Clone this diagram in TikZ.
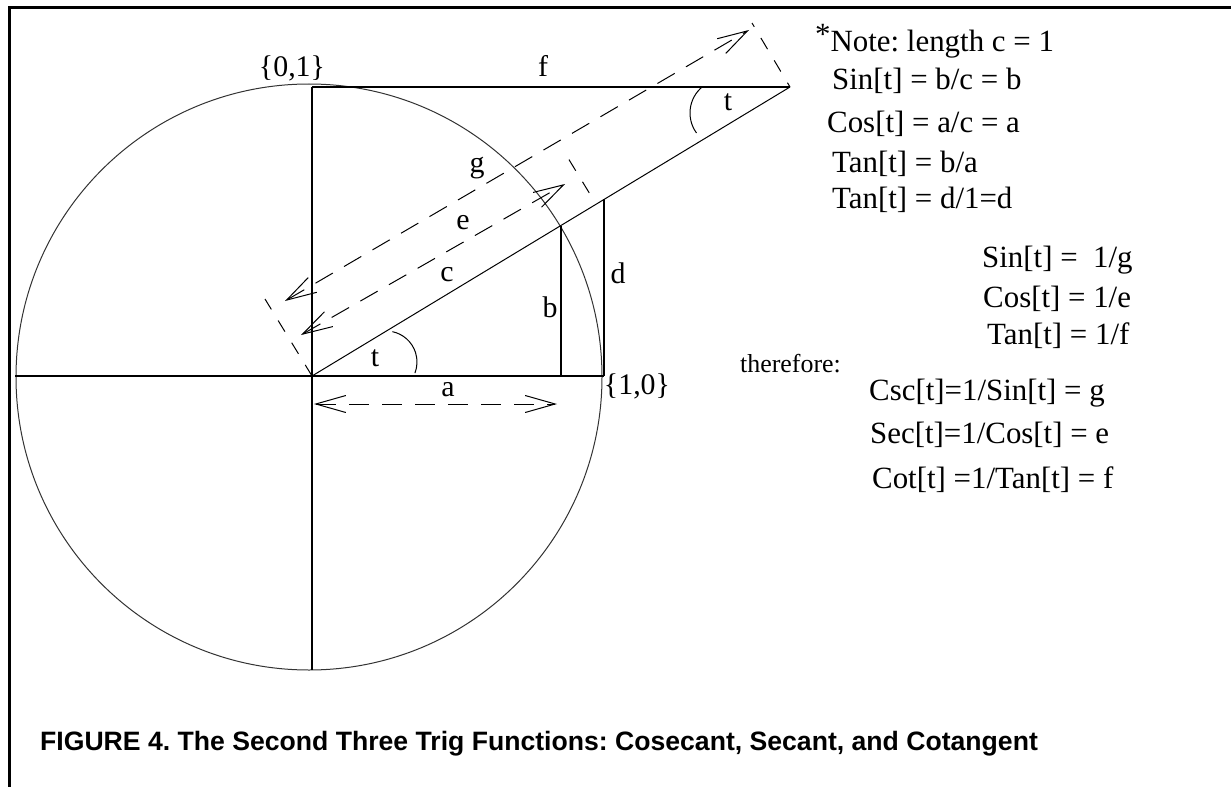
\documentclass[tikz,border=0pt]{standalone}
\usepackage{fontspec}
\setmainfont{Liberation Serif}
\newfontfamily\captionsans{Liberation Sans}
\usetikzlibrary{arrows.meta}
\frenchspacing

\begin{document}
\begin{tikzpicture}[x=1bp, y=-1bp,
  axisline/.style={line width=1.4bp},
  thinline/.style={line width=1bp},
  measure/.style={line width=1bp, dash pattern=on 20bp off 13bp, {Straight Barb[length=30bp,width=17bp]}-{Straight Barb[length=30bp,width=17bp]}},
  extline/.style={line width=1bp, dash pattern=on 13bp off 13bp},
  lbl/.style={inner sep=0pt, font=\fontsize{30}{36}\selectfont},
  eqn/.style={anchor=base west, inner sep=0pt, font=\fontsize{31}{36}\selectfont}
]
\useasboundingbox (0,0) rectangle (1231,787);
% frame
\draw[line width=3bp] (1231,8) -- (9,8) -- (9,787);

% unit circle and axes
\coordinate (O) at (312,376);
\coordinate (top) at (312,87);
\coordinate (bot) at (312,670);
\coordinate (left) at (15,376);
\coordinate (right) at (604,376);
\draw[thinline, black!80] (309,377) circle (293);
\draw[axisline] (left) -- (right);
\draw[axisline] (top) -- (bot);

% triangle and tangent pieces
\coordinate (C) at (790,87);
\coordinate (B) at (561,226);
\coordinate (Bfoot) at (561,376);
\coordinate (D) at (604,199);
\coordinate (S) at (596,204);
\draw[thinline] (O) -- (C);
\draw[axisline] (top) -- (C);
\draw[axisline] (B) -- (Bfoot);
\draw[axisline] (D) -- (right);

% angle marks
\draw[thinline] (386,362) ++(-78:31) arc[start angle=-78, end angle=21, radius=31];
\draw[thinline] (724,113) ++(144:34) arc[start angle=144, end angle=231, radius=34];

% dashed extension lines
\draw[extline] (O) -- (265,299);
\draw[extline, dash phase=13bp] (S) -- (568,158);
\draw[extline, dash phase=8bp] (C) -- (752,23);

% dashed measures
\coordinate (A1) at (314,404);
\coordinate (A2) at (557,404);
\coordinate (E1) at (301,335);
\coordinate (E2) at (565,184);
\coordinate (G1) at (285,301);
\coordinate (G2) at (749,30);
\draw[measure] (A1) -- (A2);
\draw[measure] (E1) -- (E2);
\draw[measure] (G1) -- (G2);

% labels
\node[lbl] (p01) at (292,68) {\{0,1\}};
\node[lbl] (p10) at (637,386) {\{1,0\}};
\node[lbl] (lf) at (543,66) {f};
\node[lbl] (lt2) at (728,102) {t};
\node[lbl] (lt1) at (375,358) {t};
\node[lbl] (la) at (448,390) {a};
\node[lbl] (lb) at (550,307) {b};
\node[lbl] (lc) at (447,275) {c};
\node[lbl] (ld) at (618,273) {d};
\node[lbl] (le) at (463,223) {e};
\node[lbl] (lg) at (477,168) {g};

% relations
\node[eqn] (note) at (815,52) {\raisebox{7bp}{*}Note: length c = 1};
\node[eqn] (r1) at (832,90) {Sin[t] = b/c = b};
\node[eqn] (r2) at (827,132) {Cos[t] = a/c = a};
\node[eqn] (r3) at (832,172) {Tan[t] = b/a};
\node[eqn] (r4) at (832,208) {Tan[t] = d/1=d};
\node[eqn] (r5) at (982,267) {Sin[t] =~ 1/g};
\node[eqn] (r6) at (983,307) {Cos[t] = 1/e};
\node[eqn] (r7) at (987,344) {Tan[t] = 1/f};
\node[eqn, font=\fontsize{26}{30}\selectfont] (thf) at (740,372) {therefore:};
\node[eqn] (r8) at (869,400) {Csc[t]=1/Sin[t] = g};
\node[eqn] (r9) at (870,443) {Sec[t]=1/Cos[t] = e};
\node[eqn] (r10) at (872,488) {Cot[t] =1/Tan[t] = f};

% caption
\node[anchor=base west, inner sep=0pt, font=\captionsans\bfseries\fontsize{26.7}{32}\selectfont] (cap) at (40,750)
  {FIGURE 4. The Second Three Trig Functions: Cosecant, Secant, and Cotangent};
\end{tikzpicture}
\end{document}
